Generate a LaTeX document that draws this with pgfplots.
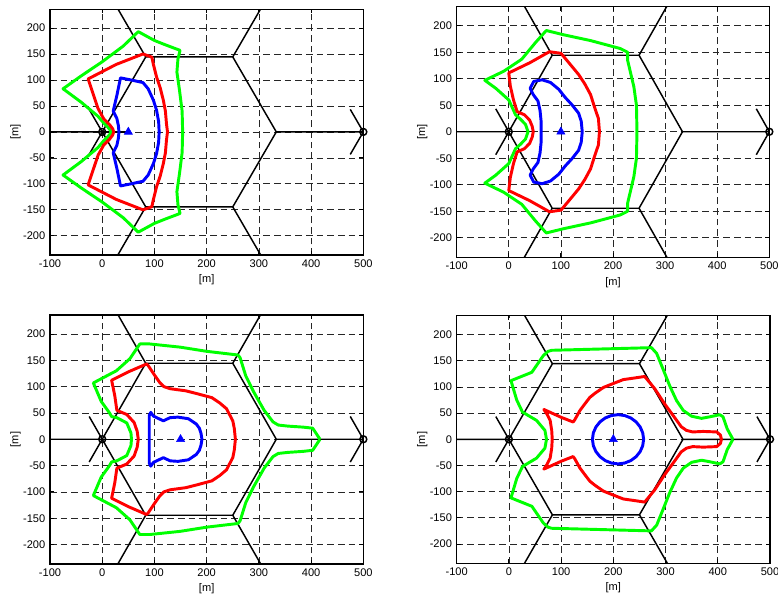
\documentclass[border=0pt]{standalone}
\usepackage{fontspec}
\setmainfont{Liberation Sans}
\usepackage{pgfplots}
\pgfplotsset{compat=1.18}

\definecolor{mgreen}{rgb}{0,1,0}
\definecolor{mred}{rgb}{1,0,0}
\definecolor{mblue}{rgb}{0,0,1}

\pgfplotsset{
 panel/.style={
  scale only axis,
  anchor=north west,
  xmin=-100, xmax=500, ymin=-237, ymax=236,
  xtick={-100,0,...,500},
  ytick={-200,-150,...,200},
  grid=major,
  major grid style={black!85, line width=0.55pt, dash pattern=on 5pt off 3pt},
  axis line style={line width=1.1pt},
  tick align=inside,
  major tick length=3pt,
  tick style={black, line width=0.6pt},
  /pgf/number format/assume math mode=true,
  ticklabel style={font=\fontsize{8.3}{10}\selectfont},
  label style={font=\fontsize{8.3}{10}\selectfont},
  xlabel={[m]}, ylabel={[m]},
  xlabel style={at={(axis description cs:0.5,-0.1)}, anchor=center},
  ylabel style={at={(axis description cs:-0.11,0.5)}, anchor=center},
 },
 hexline/.style={black, line width=1.1pt},
 cont/.style={line width=2.2pt, line join=round},
}

\newcommand{\hexgrid}{%
 \addplot[hexline] coordinates {(-100,0) (0,0) (83.33,144.34) (250,144.34) (333.33,0) (500,0)};
 \addplot[hexline] coordinates {(0,0) (83.33,-144.34) (250,-144.34) (333.33,0)};
 \addplot[hexline] coordinates {(83.33,144.34) (0,288.68)};
 \addplot[hexline] coordinates {(83.33,-144.34) (0,-288.68)};
 \addplot[hexline] coordinates {(250,144.34) (333.33,288.68)};
 \addplot[hexline] coordinates {(250,-144.34) (333.33,-288.68)};
 \addplot[hexline] coordinates {(-25,43.3) (0,0) (-25,-43.3)};
 \addplot[hexline] coordinates {(0,0) (50,0)};
 \addplot[hexline] coordinates {(475,43.3) (500,0) (475,-43.3)};
 \addplot[hexline] coordinates {(500,0) (550,0)};
}
\newcommand{\sites}[1]{%
 \addplot[only marks, mark=o, mark size=2.6pt, black, line width=1.1pt] coordinates {(0,0) (500,0)};
 \addplot[only marks, mark=triangle*, mark size=3.5pt, mblue] coordinates {(#1,0)};
}

\begin{document}
\begin{tikzpicture}
\path[use as bounding box] (0,0) rectangle (583.5pt,-445.5pt);

% ---------- Panel 1 ----------
\begin{axis}[panel, at={(37.5pt,-6.975pt)}, width=235pt, height=184.3pt]
\hexgrid
\addplot[cont, mgreen] coordinates {(154,0) (153,40) (148,80) (143,115) (145,140) (149,157) (120,168) (100,176) (69,193) (40,165) (0,135) (-40,108) (-75,83) (-40,57) (-8,30) (2,18) (10,10) (15,4) (17,0)
 (15,-4) (10,-10) (2,-18) (-8,-30) (-40,-57) (-75,-83) (-40,-108) (0,-135) (40,-165) (69,-193) (100,-176) (120,-168) (149,-157) (145,-140) (143,-115) (148,-80) (153,-40) (154,0)};
\addplot[cont, mred] coordinates {(125,0) (123,16) (121,40) (117,61) (111,85) (104,106) (98,130) (95,144) (78,150) (27,130) (-27,102) (-18,75) (-8,45) (3,25) (14,14) (20,6) (22,0)
 (20,-6) (14,-14) (3,-25) (-8,-45) (-18,-75) (-27,-102) (27,-130) (78,-150) (95,-144) (98,-130) (104,-106) (111,-85) (117,-61) (121,-40) (123,-16) (125,0)};
\addplot[cont, mblue] coordinates {(109,0) (108,20) (104,42) (98,61) (88,83) (78,95) (55,100) (35,104) (28,70) (21,40) (28,26) (31,12) (32,0)
 (31,-12) (28,-26) (21,-40) (28,-70) (35,-104) (55,-100) (78,-95) (88,-83) (98,-61) (104,-42) (108,-20) (109,0)};
\sites{50}
\end{axis}

% ---------- Panel 2 ----------
\begin{axis}[panel, at={(342.5pt,-5.0pt)}, width=234.5pt, height=188pt]
\hexgrid
\addplot[cont, mgreen] coordinates {(246,0) (245,50) (240,85) (234,110) (228,135) (228,150) (214,157) (157,172) (105,183) (72,191) (51,168) (25,137) (-10,114) (-46,97) (-25,82) (0,60) (13,32) (22,24) (32,14) (37,0)
 (32,-14) (22,-24) (13,-32) (0,-60) (-25,-82) (-46,-97) (-10,-114) (25,-137) (51,-168) (72,-191) (105,-183) (157,-172) (214,-157) (228,-150) (228,-135) (234,-110) (240,-85) (245,-50) (246,0)};
\addplot[cont, mred] coordinates {(174,0) (172,25) (165,45) (157,70) (146,90) (134,108) (118,127) (107,140) (100,148) (78,151) (40,130) (0,111) (3,86) (9,60) (16,38) (30,32) (40,22) (45,10) (47,0)
 (45,-10) (40,-22) (30,-32) (16,-38) (9,-60) (3,-86) (0,-111) (40,-130) (78,-151) (100,-148) (107,-140) (118,-127) (134,-108) (146,-90) (157,-70) (165,-45) (172,-25) (174,0)};
\addplot[cont, mblue] coordinates {(141,0) (139,20) (134,35) (122,50) (108,65) (96,80) (80,93) (64,98) (48,95) (41,82) (47,70) (56,58) (60,40) (62,20) (62,0)
 (62,-20) (60,-40) (56,-58) (47,-70) (41,-82) (48,-95) (64,-98) (80,-93) (96,-80) (108,-65) (122,-50) (134,-35) (139,-20) (141,0)};
\sites{100}
\end{axis}

% ---------- Panel 3 ----------
\begin{axis}[panel, at={(37.5pt,-236.25pt)}, width=235pt, height=186.75pt]
\hexgrid
\addplot[cont, mgreen] coordinates {(417,0) (403,21) (385,23) (355,25) (337,27) (327,33) (310,55) (290,90) (275,120) (264,155) (260,160) (200,167) (149,175) (91,181) (72,181) (53,153) (27,130) (-17,107) (-2,72) (14,50) (18,43) (28,41) (47,31) (55,12) (56,0)
 (55,-12) (47,-31) (28,-41) (18,-43) (14,-50) (-2,-72) (-17,-107) (27,-130) (53,-153) (72,-181) (91,-181) (149,-175) (200,-167) (260,-160) (264,-155) (275,-120) (290,-90) (310,-55) (327,-33) (337,-27) (355,-25) (385,-23) (403,-21) (417,0)};
\addplot[cont, mred] coordinates {(255,0) (253,20) (250,35) (238,58) (225,69) (210,79) (180,87) (160,92) (130,96) (118,100) (110,108) (100,122) (88,140) (85,143) (50,128) (18,112) (24,83) (28,55) (47,47) (61,32) (67,15) (69,0)
 (67,-15) (61,-32) (47,-47) (28,-55) (24,-83) (18,-112) (50,-128) (85,-143) (88,-140) (100,-122) (110,-108) (118,-100) (130,-96) (160,-92) (180,-87) (210,-79) (225,-69) (238,-58) (250,-35) (253,-20) (255,0)};
\addplot[cont, mblue] coordinates {(191,0) (189,12) (186,21) (180,29) (165,39) (145,42) (130,41) (117,35) (98,44) (93,51) (90,45) (90,0)
 (90,-45) (93,-51) (98,-44) (117,-35) (130,-41) (145,-42) (165,-39) (180,-29) (186,-21) (189,-12) (191,0)};
\sites{150}
\end{axis}

% ---------- Panel 4 ----------
\begin{axis}[panel, at={(342.5pt,-236.8pt)}, width=235pt, height=185.7pt]
\hexgrid
\addplot[cont, mgreen] coordinates {(429,0) (418,20) (410,43) (404,47) (385,43) (369,40) (350,44) (334,55) (321,74) (308,102) (296,132) (283,164) (273,175) (196,173) (120,171) (82,170) (75,168) (66,160) (44,128) (4,112) (15,75) (26,52) (53,36) (69,17) (72,0)
 (69,-17) (53,-36) (26,-52) (15,-75) (4,-112) (44,-128) (66,-160) (75,-168) (82,-170) (120,-171) (196,-173) (273,-175) (283,-164) (296,-132) (308,-102) (321,-74) (334,-55) (350,-44) (369,-40) (385,-43) (404,-47) (410,-43) (418,-20) (429,0)};
\addplot[cont, mred] coordinates {(407,0) (405,8) (398,14) (372,15) (352,14) (340,17) (330,24) (317,42) (298,68) (279,97) (260,120) (240,117) (219,114) (196,105) (181,99) (165,88) (155,80) (145,67) (136,55) (126,37) (123,33) (100,42) (67,57) (73,48) (79,36) (82,17) (83,0)
 (82,-17) (79,-36) (73,-48) (67,-57) (100,-42) (123,-33) (126,-37) (136,-55) (145,-67) (155,-80) (165,-88) (181,-99) (196,-105) (219,-114) (240,-117) (260,-120) (279,-97) (298,-68) (317,-42) (330,-24) (340,-17) (352,-14) (372,-15) (398,-14) (405,-8) (407,0)};
\addplot[cont, mblue] coordinates {(258,0) (256.3,12.2) (251.4,23.5) (243.6,33.2) (233.5,40.7) (221.7,45.4) (209,47) (196.3,45.4) (184.5,40.7) (174.4,33.2) (166.6,23.5) (161.7,12.2) (160,0)
 (161.7,-12.2) (166.6,-23.5) (174.4,-33.2) (184.5,-40.7) (196.3,-45.4) (209,-47) (221.7,-45.4) (233.5,-40.7) (243.6,-33.2) (251.4,-23.5) (256.3,-12.2) (258,0)};
\sites{200}
\end{axis}
\end{tikzpicture}
\end{document}
